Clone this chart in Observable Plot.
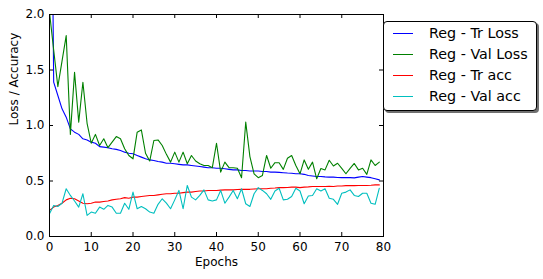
<!DOCTYPE html>
<html><head><meta charset="utf-8">
<script src="https://cdn.jsdelivr.net/npm/d3@7"></script>
<script src="https://cdn.jsdelivr.net/npm/@observablehq/plot@0.6"></script>
<style>
body{margin:0;background:#fff;font-family:"DejaVu Sans",sans-serif;}
#wrap{position:relative;width:543px;height:279px;}
#legend{position:absolute;left:383px;top:21px;width:152px;height:88px;border:1px solid #000;border-radius:4px;background:#fff;box-shadow:2px 2px 0 #707070;}
.row{position:absolute;left:0;width:152px;height:21px;font-size:14.3px;}
.sw{position:absolute;left:9px;top:10px;width:20px;height:0;border-top:1px solid;}
.lab{position:absolute;left:45px;top:1px;white-space:nowrap;line-height:19px;color:#000;}
</style>
</head><body>
<div id="wrap"><div id="chart"></div><div id="legend"></div></div>
<script>
const seriesNames = ["Reg - Tr Loss", "Reg - Val Loss", "Reg - Tr acc", "Reg - Val acc"];
const seriesColors = ["#0000ff", "#008000", "#ff0000", "#00bfbf"];
const xTicks = [0, 10, 20, 30, 40, 50, 60, 70, 80];
const yTicks = [0, 0.5, 1.0, 1.5, 2.0];

const trLoss = [5.5,1.39,1.27,1.15,1.075,0.97,0.94,0.92,0.88,0.87,
0.85,0.84,0.81,0.805,0.80,0.79,0.785,0.775,0.76,0.75,
0.745,0.73,0.715,0.70,0.69,0.685,0.675,0.67,0.66,0.66,
0.655,0.65,0.645,0.645,0.64,0.635,0.63,0.625,0.62,0.62,
0.615,0.615,0.61,0.605,0.60,0.60,0.595,0.595,0.59,0.59,
0.59,0.585,0.585,0.58,0.58,0.578,0.575,0.572,0.57,0.565,
0.565,0.56,0.55,0.545,0.54,0.54,0.537,0.535,0.535,0.532,
0.53,0.53,0.53,0.528,0.535,0.54,0.535,0.53,0.52,0.51];

const valLoss = [2.02,1.68,1.35,1.58,1.81,0.92,1.48,1.03,1.39,1.02,
0.84,0.92,0.82,0.88,0.80,0.85,0.90,0.88,0.79,0.73,
0.70,0.94,0.96,0.75,0.68,0.865,0.87,0.82,0.74,0.67,
0.76,0.67,0.76,0.655,0.73,0.68,0.655,0.64,0.64,0.62,
0.84,0.58,0.67,0.62,0.62,0.615,0.53,1.03,0.72,0.565,
0.53,0.55,0.73,0.615,0.665,0.665,0.605,0.705,0.73,0.64,
0.565,0.69,0.605,0.67,0.52,0.612,0.60,0.687,0.635,0.66,
0.613,0.565,0.613,0.658,0.60,0.615,0.56,0.69,0.64,0.67];

const trAcc = [0.235,0.265,0.28,0.30,0.33,0.345,0.34,0.32,0.30,0.295,
0.30,0.31,0.31,0.315,0.32,0.33,0.335,0.34,0.35,0.345,
0.355,0.355,0.36,0.365,0.37,0.37,0.375,0.38,0.385,0.385,
0.39,0.39,0.395,0.40,0.40,0.405,0.41,0.41,0.415,0.415,
0.415,0.418,0.42,0.42,0.42,0.423,0.425,0.425,0.425,0.428,
0.43,0.43,0.43,0.435,0.437,0.44,0.44,0.442,0.445,0.445,
0.44,0.445,0.447,0.45,0.45,0.45,0.45,0.452,0.45,0.455,
0.455,0.458,0.46,0.458,0.46,0.46,0.46,0.462,0.465,0.465];

const valAcc = [0.205,0.28,0.27,0.30,0.43,0.37,0.32,0.265,0.385,0.19,
0.22,0.21,0.265,0.245,0.28,0.265,0.21,0.21,0.30,0.245,
0.40,0.25,0.27,0.25,0.22,0.21,0.29,0.34,0.30,0.25,
0.33,0.415,0.25,0.46,0.355,0.33,0.37,0.42,0.33,0.32,
0.33,0.415,0.30,0.355,0.415,0.34,0.43,0.295,0.27,0.385,
0.44,0.415,0.385,0.335,0.41,0.435,0.33,0.335,0.36,0.435,
0.41,0.295,0.365,0.37,0.43,0.41,0.43,0.345,0.335,0.29,
0.39,0.40,0.42,0.37,0.36,0.39,0.39,0.30,0.29,0.435];

const allSeries = [trLoss, valLoss, trAcc, valAcc];
const W = 543, H = 279, mL = 49, mR = 160, mT = 14, mB = 43;
const plotH = H - mT - mB, plotW = W - mL - mR;

const lineMarks = allSeries.map((vals, i) =>
  Plot.line(vals.map((v, e) => ({epoch: e, value: v})), {
    x: "epoch", y: "value", stroke: seriesColors[i], strokeWidth: 1.1, clip: true
  })
);

const chart = Plot.plot({
  width: W, height: H,
  marginLeft: mL, marginRight: mR, marginTop: mT, marginBottom: mB,
  style: {fontFamily: "DejaVu Sans, sans-serif", fontSize: "12px", color: "#000", background: "#fff"},
  x: {domain: [0, 80]},
  y: {domain: [0, 2]},
  marks: [
    ...lineMarks,
    Plot.frame({stroke: "#000", strokeWidth: 1}),
    Plot.tickX(xTicks, {x: d => d, insetTop: plotH - 4, stroke: "#000"}),
    Plot.tickX(xTicks, {x: d => d, insetBottom: plotH - 4, stroke: "#000"}),
    Plot.tickY(yTicks, {y: d => d, insetRight: plotW - 4, stroke: "#000"}),
    Plot.tickY(yTicks, {y: d => d, insetLeft: plotW - 4, stroke: "#000"}),
    Plot.axisX({ticks: xTicks, tickSize: 0, tickPadding: 6, tickFormat: d3.format("d"), label: null, fontSize: 12}),
    Plot.axisY({ticks: yTicks, tickSize: 0, tickPadding: 5, tickFormat: d3.format(".1f"), label: null, fontSize: 12}),
    Plot.text(["Epochs"], {frameAnchor: "bottom", dy: 29, fill: "#000", fontSize: 12}),
    Plot.text(["Loss / Accuracy"], {frameAnchor: "left", dx: -35, rotate: -90, fill: "#000", fontSize: 12})
  ]
});
document.getElementById("chart").appendChild(chart);

const legend = document.getElementById("legend");
seriesNames.forEach((name, i) => {
  const row = document.createElement("div");
  row.className = "row";
  row.style.top = (1 + i * 21) + "px";
  const sw = document.createElement("div");
  sw.className = "sw";
  sw.style.borderTopColor = seriesColors[i];
  const lab = document.createElement("div");
  lab.className = "lab";
  lab.textContent = name;
  row.appendChild(sw); row.appendChild(lab);
  legend.appendChild(row);
});
</script>
</body></html>
